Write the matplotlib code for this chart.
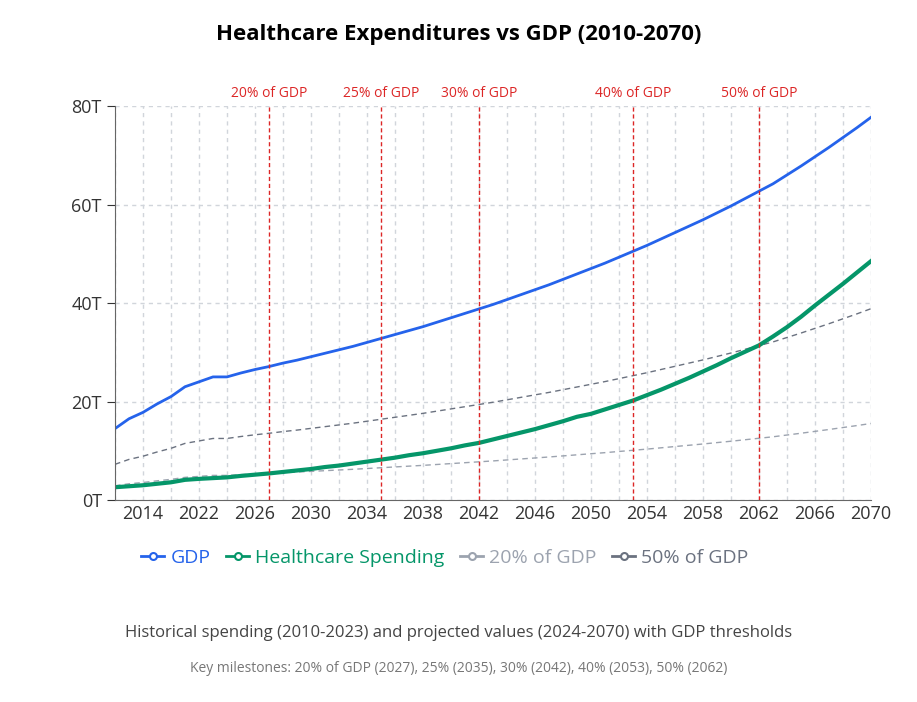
import matplotlib.pyplot as plt
from matplotlib.lines import Line2D

years = [2010, 2012, 2014, 2016, 2018, 2020, 2022, 2023] + list(range(2024, 2071))

gdp = [14.5, 16.5, 17.8, 19.5, 21.0, 23.0, 24.0, 25.0,
       25.0, 25.8, 26.5, 27.1, 27.8, 28.4, 29.1, 29.8, 30.5, 31.2,
       32.0, 32.8, 33.6, 34.4, 35.2, 36.1, 37.0, 37.9, 38.8, 39.7,
       40.7, 41.7, 42.7, 43.7, 44.8, 45.9, 47.0, 48.1, 49.3, 50.5,
       51.7, 53.0, 54.3, 55.6, 56.9, 58.3, 59.7, 61.2, 62.7, 64.2,
       66.0, 67.8, 69.7, 71.6, 73.6, 75.6, 77.7]

health = [2.6, 2.8, 3.0, 3.3, 3.6, 4.1, 4.3, 4.45,
          4.6, 4.9, 5.15, 5.4, 5.7, 6.0, 6.3, 6.7, 7.0, 7.4,
          7.8, 8.2, 8.6, 9.1, 9.5, 10.0, 10.5, 11.1, 11.6, 12.3,
          13.0, 13.7, 14.4, 15.2, 16.0, 16.9, 17.5, 18.4, 19.3, 20.2,
          21.3, 22.4, 23.6, 24.8, 26.1, 27.4, 28.8, 30.1, 31.4, 33.2,
          35.1, 37.2, 39.5, 41.7, 43.9, 46.2, 48.5]

pct20 = [0.2 * g for g in gdp]
pct50 = [0.5 * g for g in gdp]

milestones = [(2027, '20% of GDP'), (2035, '25% of GDP'), (2042, '30% of GDP'),
              (2053, '40% of GDP'), (2062, '50% of GDP')]

col_gdp = '#2563eb'
col_hc = '#059669'
col_20 = '#9ca3af'
col_50 = '#6b7280'
col_red = '#dc2626'

plt.rcParams['font.family'] = ['Open Sans', 'DejaVu Sans']

fig = plt.figure(figsize=(9.17, 7.02), dpi=100)
ax = fig.add_axes([0.1254, 0.2877, 0.8244, 0.5613])

x = list(range(len(years)))
ax.plot(x, pct20, color=col_20, lw=1, ls=(0, (4, 3)))
ax.plot(x, pct50, color=col_50, lw=1, ls=(0, (4, 3)))
ax.plot(x, gdp, color=col_gdp, lw=2)
ax.plot(x, health, color=col_hc, lw=3)

for yr, lab in milestones:
    i = years.index(yr)
    ax.axvline(i, color=col_red, lw=1, ls=(0, (3, 2)))
    ax.text(i, 81, lab, color=col_red, fontsize=10, ha='center', va='bottom')

ax.set_xlim(0, len(years) - 1)
ax.set_ylim(0, 80)
ax.set_yticks([0, 20, 40, 60, 80])
ax.set_yticklabels(['0T', '20T', '40T', '60T', '80T'])
ticks = list(range(0, len(years), 2))
ax.set_xticks(ticks)
ax.set_xticklabels([str(years[i]) if i % 4 == 2 else '' for i in ticks])
ax.tick_params(labelsize=13, colors='#333', length=6)
ax.tick_params(axis='x', length=0)
ax.grid(True, color='#d1d5db', ls=(0, (3, 3)), lw=1)
for s in ['top', 'right']:
    ax.spines[s].set_visible(False)
for s in ['left', 'bottom']:
    ax.spines[s].set_color('#666')

fig.text(0.5, 0.943, 'Healthcare Expenditures vs GDP (2010-2070)',
         ha='center', fontsize=16, fontweight='bold')

handles = [Line2D([], [], color=c, lw=2, marker='o', markersize=5,
                  markerfacecolor='white', markeredgewidth=1.5)
           for c in [col_gdp, col_hc, col_20, col_50]]
labels = ['GDP', 'Healthcare Spending', '20% of GDP', '50% of GDP']
leg = fig.legend(handles, labels, loc='center', bbox_to_anchor=(0.485, 0.205),
                 ncol=4, frameon=False, fontsize=14, handlelength=1.2,
                 handletextpad=0.3, columnspacing=0.8)
for t, c in zip(leg.get_texts(), [col_gdp, col_hc, col_20, col_50]):
    t.set_color(c)

fig.text(0.5, 0.093, 'Historical spending (2010-2023) and projected values (2024-2070) with GDP thresholds',
         ha='center', fontsize=12, color='#444')
fig.text(0.5, 0.043, 'Key milestones: 20% of GDP (2027), 25% (2035), 30% (2042), 40% (2053), 50% (2062)',
         ha='center', fontsize=10, color='#777')

fig.savefig('out.png', dpi=100)
